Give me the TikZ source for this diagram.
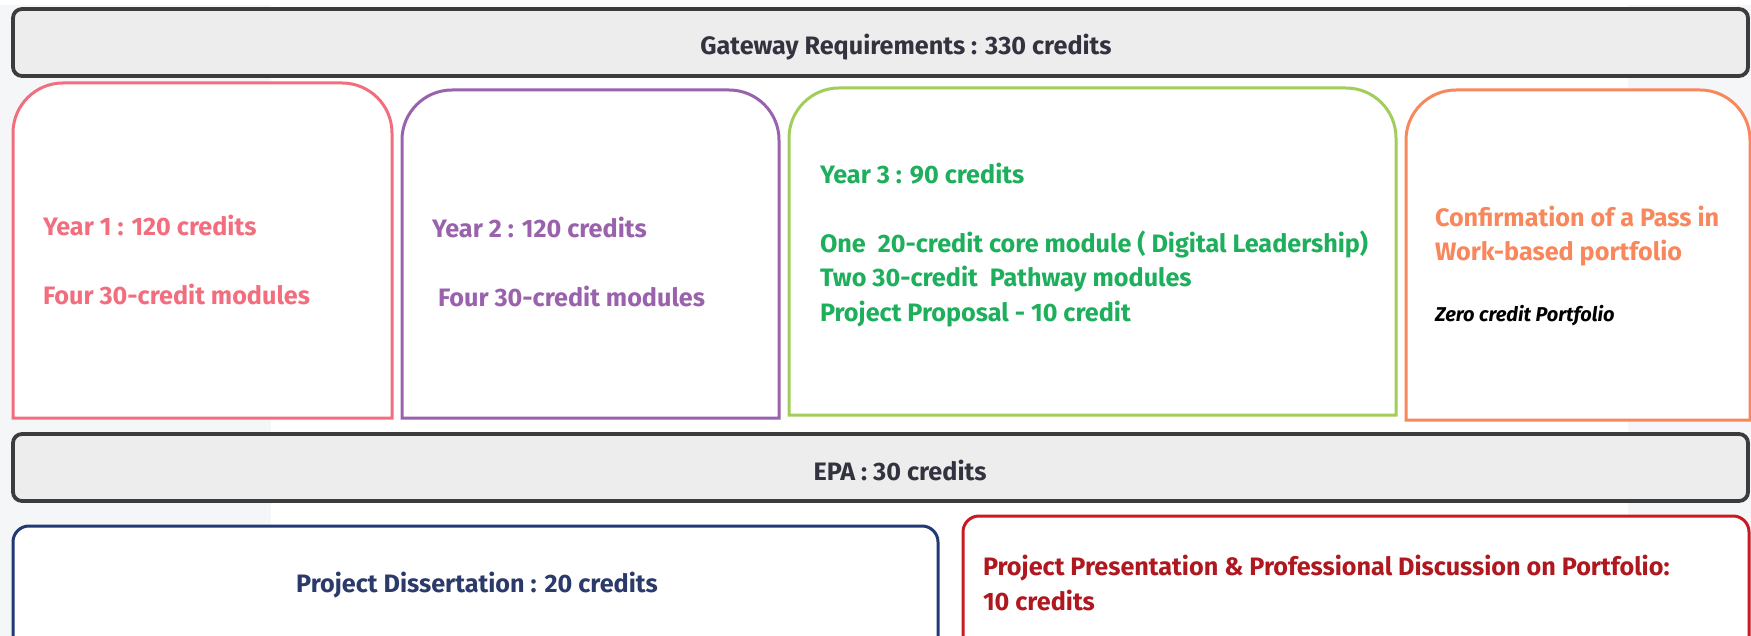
\documentclass[tikz,border=0pt]{standalone}
\usepackage{fontspec}
\setmainfont{Fira Sans}

\definecolor{bandgrey}{HTML}{F5F6F8}
\definecolor{barline}{HTML}{3C3C3C}
\definecolor{barfill}{HTML}{EDEDED}
\definecolor{textdark}{HTML}{333340}
\definecolor{pinkc}{HTML}{F26E7E}
\definecolor{purplec}{HTML}{9A62AC}
\definecolor{greenline}{HTML}{A2CD5A}
\definecolor{greentext}{HTML}{1DAF5C}
\definecolor{orangec}{HTML}{F8875C}
\definecolor{navyc}{HTML}{1F3A75}
\definecolor{navytext}{HTML}{2B3A6B}
\definecolor{crimsonc}{HTML}{C81A20}
\definecolor{crimsontext}{HTML}{B01820}

% frame with rounded top corners and square bottom corners around an area node
\newcommand\topframe[3]{%
  \draw[draw=#3, line width=3pt, fill=white]
    (#1.south west) -- ([yshift=-#2]#1.north west)
    arc[start angle=180, end angle=90, radius=#2]
    -- ([xshift=-#2]#1.north east)
    arc[start angle=90, end angle=0, radius=#2]
    -- (#1.south east) -- cycle;}

\begin{document}
\begin{tikzpicture}[x=1pt, y=1pt,
  every node/.style={inner sep=0pt, outer sep=0pt},
  area/.style={rectangle, draw=none, anchor=north west},
  bar/.style={rectangle, draw=barline, line width=3.8pt, fill=barfill,
    rounded corners=9pt, anchor=north west, minimum width=1735pt, minimum height=67pt},
  txt/.style={font=\fontsize{25.2}{30}\selectfont\bfseries, anchor=base west},
  ctxt/.style={font=\fontsize{25.2}{30}\selectfont\bfseries, anchor=base},
  note/.style={font=\fontsize{20}{24}\selectfont\bfseries\itshape, anchor=base west, text=black}]

\useasboundingbox (0,0) rectangle (1751,-636);

% light side bands of the page
\fill[bandgrey] (0,-5) rectangle (271,-636);
\fill[bandgrey] (1628,-5) rectangle (1751,-636);

% gateway bar
\node[bar] (gw) at (13,-9) {};
\node[ctxt, text=textdark] (gwt) at (906,-55) {Gateway Requirements : 330 credits};

% year boxes
\node[area, minimum width=379pt, minimum height=335pt] (y1) at (13,-83) {};
\node[area, minimum width=377pt, minimum height=328pt] (y2) at (402,-90) {};
\node[area, minimum width=607pt, minimum height=327pt] (y3) at (789,-88) {};
\node[area, minimum width=344pt, minimum height=330pt] (wbp) at (1406,-90) {};
\topframe{y1}{50pt}{pinkc}
\topframe{y2}{50pt}{purplec}
\topframe{y3}{50pt}{greenline}
\topframe{wbp}{50pt}{orangec}

\node[txt, text=pinkc] (y1a) at (43,-236) {Year 1 : 120 credits};
\node[txt, text=pinkc] (y1b) at (43,-305) {Four 30-credit modules};

\node[txt, text=purplec] (y2a) at (432,-238) {Year 2 : 120 credits};
\node[txt, text=purplec] (y2b) at (438,-307) {Four 30-credit modules};

\node[txt, text=greentext] (y3a) at (820,-184) {Year 3 : 90 credits};
\node[txt, text=greentext] (y3b) at (820,-253) {One\ \ 20-credit core module ( Digital Leadership)};
\node[txt, text=greentext] (y3c) at (820,-287) {Two 30-credit\ \ Pathway modules};
\node[txt, text=greentext] (y3d) at (820,-322) {Project Proposal - 10 credit};

\node[txt, text=orangec] (wa) at (1435,-227) {Confirmation of a Pass in};
\node[txt, text=orangec] (wb) at (1435,-261) {Work-based portfolio};
\node[note] (wc) at (1435,-322) {Zero credit Portfolio};

% EPA bar
\node[bar] (epa) at (13,-434) {};
\node[ctxt, text=textdark] (epat) at (900,-480) {EPA : 30 credits};

% assessment boxes
\node[area, minimum width=925pt, minimum height=140pt] (pd) at (13,-526) {};
\node[area, minimum width=786pt, minimum height=150pt] (pp) at (963,-516) {};
\topframe{pd}{16pt}{navyc}
\topframe{pp}{16pt}{crimsonc}

\node[ctxt, text=navytext] (pdt) at (477,-592) {Project Dissertation : 20 credits};
\node[txt, text=crimsontext] (ppa) at (983,-575) {Project Presentation \& Professional Discussion on Portfolio:};
\node[txt, text=crimsontext] (ppb) at (983,-610) {10 credits};
\end{tikzpicture}
\end{document}
